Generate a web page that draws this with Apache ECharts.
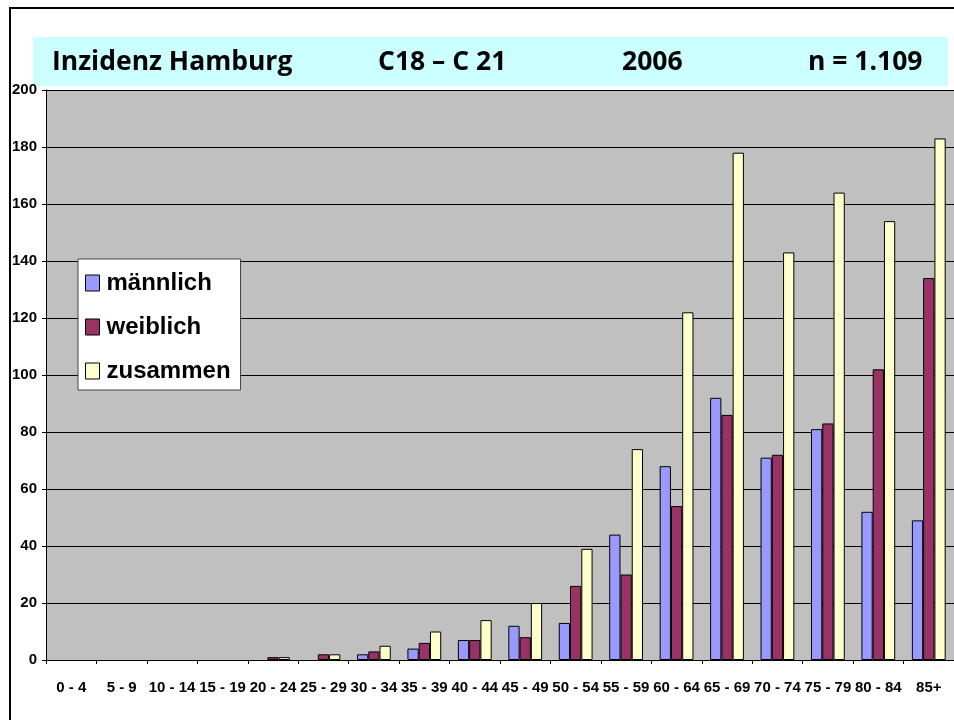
<!DOCTYPE html>
<html>
<head>
<meta charset="utf-8">
<script src="https://cdn.jsdelivr.net/npm/echarts@6/dist/echarts.min.js"></script>
<style>
  html, body { margin: 0; padding: 0; background: #fff; }
  #chart { width: 954px; height: 720px; }
</style>
</head>
<body>
<div id="chart"></div>
<script>
// Altersgruppen
var ageGroups = ['0 - 4', '5 - 9', '10 - 14', '15 - 19', '20 - 24', '25 - 29', '30 - 34', '35 - 39', '40 - 44',
  '45 - 49', '50 - 54', '55 - 59', '60 - 64', '65 - 69', '70 - 74', '75 - 79', '80 - 84', '85+'];

// Fallzahlen
var maennlich = [0, 0, 0, 0, 0, 0, 2, 4, 7, 12, 13, 44, 68, 92, 71, 81, 52, 49];
var weiblich  = [0, 0, 0, 0, 1, 2, 3, 6, 7, 8, 26, 30, 54, 86, 72, 83, 102, 134];
var zusammen  = [0, 0, 0, 0, 1, 2, 5, 10, 14, 20, 39, 74, 122, 178, 143, 164, 154, 183];

var titleParts = ['Inzidenz Hamburg', 'C18 – C 21', '2006', 'n = 1.109'];
var titleLeft = [52, 378, 622, 808];

var axisFont = '"Liberation Sans Narrow", "Liberation Sans", Arial, sans-serif';
var titleFont = '"Open Sans", "Noto Sans", sans-serif';

var chart = echarts.init(document.getElementById('chart'));

function makeSeries(name, data, color) {
  return {
    name: name,
    type: 'bar',
    // Nullwerte nicht zeichnen (sonst bleibt ein Rahmenstrich auf der Achse)
    data: data.map(function (v) { return v === 0 ? '-' : v; }),
    barGap: '0%',
    barCategoryGap: '33%',
    itemStyle: { color: color, borderColor: '#000', borderWidth: 1 },
    emphasis: { disabled: true }
  };
}

chart.setOption({
  animation: false,
  backgroundColor: '#fff',
  title: titleParts.map(function (t, i) {
    return {
      text: t,
      left: titleLeft[i],
      top: 49,
      padding: 0,
      textStyle: { fontFamily: titleFont, fontWeight: 'bold', fontSize: 26.5, color: '#000' }
    };
  }),
  graphic: [
    { type: 'rect', z: -10, shape: { x: 10, y: 8, width: 960, height: 730 },
      style: { fill: '#fff', stroke: '#000', lineWidth: 2 } },
    { type: 'rect', z: -5, shape: { x: 33, y: 37, width: 915, height: 49 },
      style: { fill: '#ccffff' } }
  ],
  legend: {
    orient: 'vertical',
    left: 78,
    top: 259,
    backgroundColor: '#fff',
    borderColor: '#444',
    borderWidth: 1,
    borderRadius: 0,
    padding: [12, 10, 7, 7],
    itemWidth: 14,
    itemHeight: 16,
    itemGap: 20,
    icon: 'rect',
    itemStyle: { borderColor: '#000', borderWidth: 1 },
    textStyle: { fontFamily: axisFont, fontWeight: 'bold', fontSize: 24, color: '#000', padding: [0, 0, 0, 2] },
    data: ['männlich', 'weiblich', 'zusammen']
  },
  grid: {
    left: 46,
    right: -6,
    top: 90,
    bottom: 60,
    show: true,
    backgroundColor: '#c0c0c0',
    borderWidth: 0
  },
  xAxis: {
    type: 'category',
    data: ageGroups,
    axisLine: { lineStyle: { color: '#000', width: 1 } },
    axisTick: { show: true, length: 4, lineStyle: { color: '#000' } },
    axisLabel: { margin: 20, fontFamily: axisFont, fontWeight: 'bold', fontSize: 15, color: '#000', interval: 0 }
  },
  yAxis: {
    type: 'value',
    min: 0,
    max: 200,
    interval: 20,
    axisLine: { show: true, lineStyle: { color: '#000', width: 1 } },
    axisTick: { show: true, length: 4, lineStyle: { color: '#000' } },
    splitLine: { show: true, lineStyle: { color: '#000', width: 1 } },
    axisLabel: { margin: 9, fontFamily: axisFont, fontWeight: 'bold', fontSize: 15, color: '#000' }
  },
  series: [
    makeSeries('männlich', maennlich, '#9999ff'),
    makeSeries('weiblich', weiblich, '#993366'),
    makeSeries('zusammen', zusammen, '#ffffcc')
  ]
});
</script>
</body>
</html>
